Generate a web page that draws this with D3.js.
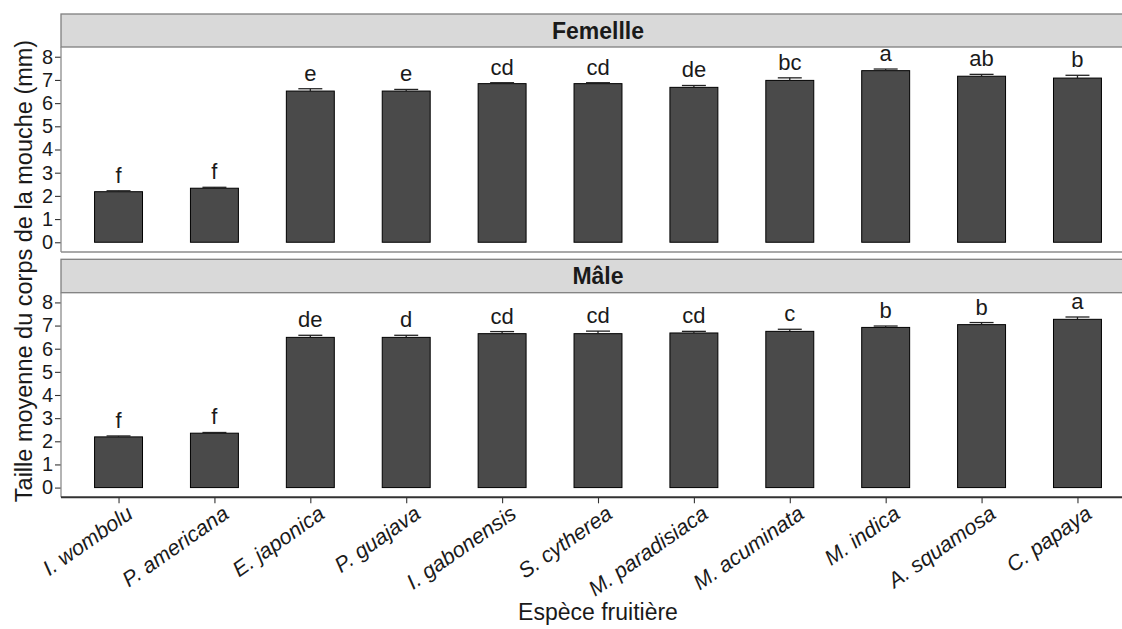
<!DOCTYPE html>
<html><head><meta charset="utf-8">
<script src="https://d3js.org/d3.v7.min.js"></script>
<style>body{margin:0;background:#fff}svg{display:block}text{font-family:"Liberation Sans",Arial,sans-serif;fill:#1a1a1a}</style>
</head><body><svg id="c" width="1122" height="629"></svg>
<script>
const species = ["I. wombolu","P. americana","E. japonica","P. guajava","I. gabonensis","S. cytherea","M. paradisiaca","M. acuminata","M. indica","A. squamosa","C. papaya"];
const panels = ["Femellle","Mâle"];
const femaleMean = [2.18,2.33,6.52,6.52,6.84,6.84,6.68,6.98,7.40,7.16,7.08];
const femaleSE   = [0.04,0.04,0.10,0.07,0.04,0.04,0.08,0.11,0.07,0.08,0.12];
const femaleLetters = ["f","f","e","e","cd","cd","de","bc","a","ab","b"];
const maleMean = [2.19,2.35,6.49,6.49,6.65,6.65,6.68,6.75,6.92,7.04,7.27];
const maleSE   = [0.04,0.03,0.09,0.09,0.09,0.11,0.07,0.09,0.06,0.09,0.10];
const maleLetters = ["f","f","de","d","cd","cd","cd","c","b","b","a"];
const yTicks = [0,1,2,3,4,5,6,7,8];
const xTitle = "Espèce fruitière";
const yTitle = "Taille moyenne du corps de la mouche (mm)";

const svg = d3.select("#c");
const L = 61, R = 1135;
const x = d3.scalePoint().domain(species).range([L, R]).padding(0.6);
const step = x.step();
const bw = step * 0.5;

const layout = [
  {name: panels[0], mean: femaleMean, se: femaleSE, let: femaleLetters, stripTop: 14, top: 47, bottom: 252, last: false},
  {name: panels[1], mean: maleMean, se: maleSE, let: maleLetters, stripTop: 259.3, top: 292.7, bottom: 497.3, last: true}
];

layout.forEach(p => {
  const y = d3.scaleLinear().domain([-0.42, 8.42]).range([p.bottom, p.top]);
  const g = svg.append("g");
  g.append("rect").attr("x", L).attr("y", p.stripTop).attr("width", R - L).attr("height", p.top - p.stripTop)
    .attr("fill", "#d9d9d9").attr("stroke", "#7f7f7f").attr("stroke-width", 1.3);
  g.append("text").attr("x", (L + R) / 2).attr("y", p.top - 8.5).attr("text-anchor", "middle")
    .attr("font-weight", "bold").attr("font-size", 23).text(p.name);
  const data = species.map((s, i) => ({s, m: p.mean[i], e: p.se[i], l: p.let[i]}));
  g.selectAll("rect.bar").data(data).enter().append("rect").attr("class", "bar")
    .attr("x", d => x(d.s) - bw / 2).attr("width", bw)
    .attr("y", d => y(d.m)).attr("height", d => y(0) - y(d.m))
    .attr("fill", "#4a4a4a").attr("stroke", "#000").attr("stroke-width", 1);
  const eb = g.selectAll("g.eb").data(data).enter().append("g").attr("stroke", "#222").attr("stroke-width", 1.3);
  eb.append("line").attr("x1", d => x(d.s)).attr("x2", d => x(d.s)).attr("y1", d => y(d.m)).attr("y2", d => y(d.m + d.e));
  eb.append("line").attr("x1", d => x(d.s) - bw / 4).attr("x2", d => x(d.s) + bw / 4).attr("y1", d => y(d.m + d.e)).attr("y2", d => y(d.m + d.e));
  g.selectAll("text.lab").data(data).enter().append("text").attr("class", "lab")
    .attr("x", d => x(d.s)).attr("y", d => y(d.m + d.e) - 8).attr("text-anchor", "middle")
    .attr("font-size", 22).text(d => d.l);
  const ya = g.append("g").attr("transform", `translate(${L},0)`)
    .call(d3.axisLeft(y).tickValues(yTicks).tickSize(6).tickPadding(2));
  ya.select(".domain").remove();
  ya.selectAll(".tick line").attr("stroke", "#333").attr("stroke-width", 1.1);
  ya.selectAll(".tick text").attr("font-size", 20).attr("fill", "#1a1a1a").attr("font-family", '"Liberation Sans",Arial,sans-serif');
  g.append("line").attr("x1", L).attr("x2", L).attr("y1", p.top).attr("y2", p.bottom).attr("stroke", "#8c8c8c").attr("stroke-width", 1.3);
  g.append("line").attr("x1", L).attr("x2", R).attr("y1", p.bottom).attr("y2", p.bottom)
    .attr("stroke", p.last ? "#333" : "#8c8c8c").attr("stroke-width", p.last ? 2 : 1.3);
  if (p.last) {
    const xa = g.append("g").attr("transform", `translate(0,${p.bottom})`)
      .call(d3.axisBottom(x).tickSize(6).tickFormat(""));
    xa.select(".domain").remove();
    xa.selectAll(".tick line").attr("stroke", "#333").attr("stroke-width", 1.1);
    g.selectAll("text.xl").data(species).enter().append("text").attr("class", "xl")
      .attr("transform", d => `translate(${x(d) + 7},${p.bottom + 7}) rotate(-35)`)
      .attr("text-anchor", "end").attr("dy", "0.71em").attr("font-size", 21.5).attr("font-style", "italic").text(d => d);
  }
});

svg.append("text").attr("x", 598).attr("y", 620).attr("text-anchor", "middle").attr("font-size", 23).text(xTitle);
svg.append("text").attr("transform", "translate(32,271) rotate(-90)").attr("text-anchor", "middle").attr("font-size", 23.5).text(yTitle);
</script></body></html>
